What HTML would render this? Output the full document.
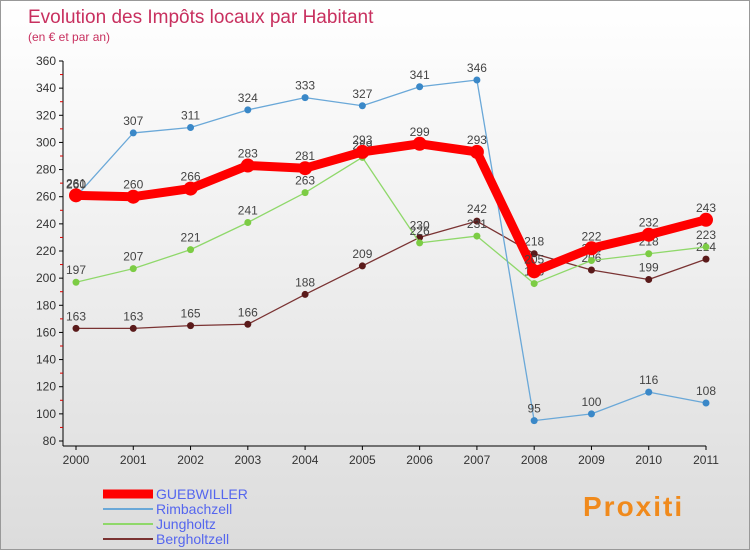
<!DOCTYPE html>
<html><head><meta charset="utf-8"><style>
body{margin:0}
#c{width:750px;height:550px;position:relative;font-family:"Liberation Sans",sans-serif;background:linear-gradient(#fff,#dcdcdc);border:1px solid #999;box-sizing:border-box;overflow:hidden}
</style></head><body>
<div id="c">
<svg id="s" width="750" height="550"></svg>
</div>
<script>
const years=["2000","2001","2002","2003","2004","2005","2006","2007","2008","2009","2010","2011"];
const guebwiller=[261,260,266,283,281,293,299,293,205,222,232,243];
const rimbachzell=[260,307,311,324,333,327,341,346,95,100,116,108];
const jungholtz=[197,207,221,241,263,289,226,231,196,213,218,223];
const bergholtzell=[163,163,165,166,188,209,230,242,218,206,199,214];
const yTicks=[80,100,120,140,160,180,200,220,240,260,280,300,320,340,360];
const NS="http://www.w3.org/2000/svg";
const s=document.getElementById('s');
function X(i){return 75+i*(630/11);}
function Y(v){return 440-(v-80)*(380/280);}
function el(t,a,p){const e=document.createElementNS(NS,t);for(const k in a)e.setAttribute(k,a[k]);(p||s).appendChild(e);return e;}
function tx(x,y,str,a){const e=el('text',Object.assign({x:x,y:y},a));e.textContent=str;return e;}
let t=tx(27,22,"Evolution des Impôts locaux par Habitant",{fill:"#c8305f","font-size":"19"});

t=tx(27,40,"(en € et par an)",{fill:"#c8305f","font-size":"12"});

// axes
let a=el('line',{x1:62,y1:Y(360),x2:62,y2:445,stroke:"#000"});

a=el('line',{x1:62,y1:445,x2:X(11),y2:445,stroke:"#000"});

yTicks.forEach(v=>{el('line',{x1:58,y1:Y(v),x2:62,y2:Y(v),stroke:"#000"});
 if(v<360)el('line',{x1:59,y1:Y(v+10),x2:62,y2:Y(v+10),stroke:"#d00"});
 const l=tx(55,Y(v)+4,String(v),{"text-anchor":"end","font-size":"12",fill:"#333"});
 });
years.forEach((y,i)=>{el('line',{x1:X(i),y1:445,x2:X(i),y2:449,stroke:"#000"});
 const l=tx(X(i),463,y,{"text-anchor":"middle","font-size":"12",fill:"#333"});
 });
function series(d,col,w,r,name,dotCol){
 const g=el('g',{});
 el('polyline',{points:d.map((v,i)=>X(i)+','+Y(v)).join(' '),fill:"none",stroke:col,"stroke-width":w,"stroke-linejoin":"round"},g);
 d.forEach((v,i)=>{const c=el('circle',{cx:X(i),cy:Y(v),r:r,fill:dotCol||col},g);
  
  const l=tx(X(i),Y(v)-8,String(v),{"text-anchor":"middle","font-size":"12",fill:"#444"},g);
  });
}
series(bergholtzell,"#7a3333",1.3,3.5,"bergholtzell","#5a1a1a");
series(jungholtz,"#8fd86a",1.3,3.5,"jungholtz","#7ccc44");
series(rimbachzell,"#6aa8d8",1.3,3.5,"rimbachzell","#3a88c8");
series(guebwiller,"#f00",9,7,"guebwiller");
// legend
const lg=[["GUEBWILLER","#f00",9],["Rimbachzell","#6aa8d8",2],["Jungholtz","#8fd86a",2],["Bergholtzell","#7a3333",2]];
lg.forEach((e,i)=>{const y=493+i*15;const g=el('g',{});
 el('line',{x1:102,y1:y,x2:152,y2:y,stroke:e[1],"stroke-width":e[2]},g);
 tx(155,y+5,e[0],{"font-size":"14",fill:"#5566ee"},g);});
t=tx(582,515,"Proxiti",{"font-size":"28","font-weight":"bold",fill:"#f08a1c","letter-spacing":"2"});

</script>
</body></html>
